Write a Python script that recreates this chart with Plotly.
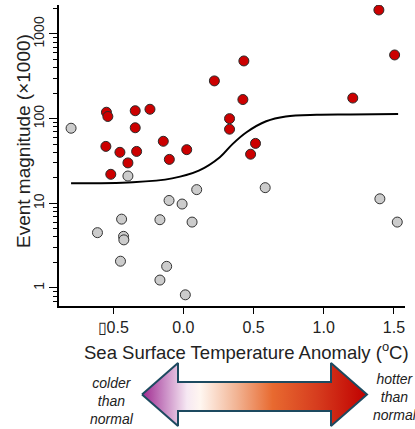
import plotly.graph_objects as go

# ---- data ----
grey_x = [-0.80, -0.395, 0.095, 0.583, 1.40, 1.524, -0.612, -0.44, -0.426, -0.424,
          -0.448, -0.102, -0.009, -0.167, 0.062, -0.119, -0.167, 0.014]
grey_y = [77, 21, 14.5, 15.3, 11.3, 6.0, 4.5, 6.5, 4.07, 3.7,
          2.07, 10.8, 9.8, 6.4, 6.0, 1.8, 1.24, 0.83]

red_x = [-0.548, -0.538, -0.343, -0.238, -0.343, -0.552, -0.452, -0.333, -0.143, 0.024,
         -0.10, -0.395, -0.517, 1.393, 1.505, 0.431, 0.221, 0.424, 1.207, 0.329,
         0.329, 0.514, 0.479]
red_y = [119, 106, 124, 129, 78, 47, 40, 41, 54, 43,
         33, 30, 22, 1920, 565, 480, 279, 168, 175, 100,
         75, 51, 38]

curve_x = [-0.80, -0.36, -0.08, 0.11, 0.26, 0.35, 0.45, 0.59, 0.73, 0.95, 1.19, 1.53]
curve_y = [17.2, 17.7, 19.7, 24.3, 35, 50, 69, 93, 106, 111, 112, 113.6]

x_tickvals = [-0.5, 0.0, 0.5, 1.0, 1.5]
x_ticktext = ["\u25af0.5", "0.0", "0.5", "1.0", "1.5"]
y_tickvals = [1, 10, 100, 1000]
y_ticktext = ["1", "10", "100", "1000"]
y_minor = [m * 10 ** e for e in range(-1, 4) for m in range(2, 10)]

FONT = "Liberation Sans, Arial, sans-serif"
W, H = 415, 429
ML, MR, MT, MB = 59, 10, 5, 0
PH = H - MT - MB

fig = go.Figure()

fig.add_trace(go.Scatter(x=curve_x, y=curve_y, mode="lines", line_shape="spline",
                         line=dict(color="black", width=2), hoverinfo="skip",
                         showlegend=False))
fig.add_trace(go.Scatter(x=grey_x, y=grey_y, mode="markers", showlegend=False,
                         marker=dict(size=10, color="#cccccc",
                                     line=dict(color="#333333", width=1))))
fig.add_trace(go.Scatter(x=red_x, y=red_y, mode="markers", showlegend=False,
                         marker=dict(size=10, color="#cc0000",
                                     line=dict(color="#2a2a2a", width=1))))

# ---- decorative gradient arrow (pixel coordinates on helper axes) ----
ax_l, ax_r = 142, 367
hb_l, hb_r = 178, 331
head_t, head_b = 363, 426
sh_t, sh_b = 382, 411
mid = 394.5
arrow_x = [ax_l, hb_l, hb_l, hb_r, hb_r, ax_r, hb_r, hb_r, hb_l, hb_l, ax_l]
arrow_y = [mid, head_t, sh_t, sh_t, head_t, mid, head_b, sh_b, sh_b, head_b, mid]
fig.add_trace(go.Scatter(
    x=arrow_x, y=arrow_y, xaxis="x2", yaxis="y2", mode="lines", fill="toself",
    line=dict(color="#1d4a60", width=2), showlegend=False, hoverinfo="skip",
    fillgradient=dict(type="horizontal", colorscale=[
        [0.0, "#a0288f"], [0.1, "#c98ac4"], [0.2, "#f6e8f3"], [0.26, "#fff6f0"],
        [0.42, "#f2b494"], [0.58, "#e86a30"], [0.78, "#d63c1e"], [1.0, "#c00000"]])))

fig.update_layout(
    width=W, height=H, margin=dict(l=ML, r=MR, t=MT, b=MB),
    paper_bgcolor="white", plot_bgcolor="white",
    font=dict(family=FONT, color="#222222"),
    xaxis=dict(range=[-0.886, 1.579], domain=[0, 1], anchor="y",
               tickvals=x_tickvals, ticktext=x_ticktext,
               tickfont=dict(size=16, color="#222222"),
               showline=True, linecolor="black", linewidth=1.5,
               ticks="outside", ticklen=6, tickwidth=1.2, tickcolor="black",
               showgrid=False, zeroline=False),
    yaxis=dict(type="log", range=[-0.213, 3.342],
               domain=[(H - 306 - MB) / PH, 1], anchor="x",
               tickvals=y_tickvals, ticktext=y_ticktext, tickangle=-90,
               tickfont=dict(size=14, color="#222222"),
               showline=True, linecolor="black", linewidth=1.5,
               ticks="outside", ticklen=8, tickwidth=1.2, tickcolor="black",
               minor=dict(tickvals=y_minor, ticks="outside", ticklen=4,
                          tickwidth=1, tickcolor="black", showgrid=False),
               showgrid=False, zeroline=False),
    xaxis2=dict(range=[ML, W - MR], domain=[0, 1], anchor="y2", visible=False,
                fixedrange=True),
    yaxis2=dict(range=[H, 355], domain=[0, (H - 355 - MB) / PH], anchor="x2",
                visible=False, fixedrange=True),
)

fig.add_annotation(text="Sea Surface Temperature Anomaly (<sup>o</sup>C)",
                   xref="x2", yref="paper", x=246, y=(H - 351 - MB) / PH,
                   showarrow=False, font=dict(size=18.5, color="#222222"),
                   xanchor="center", yanchor="middle")
fig.add_annotation(text="Event magnitude (\u00d71000)", textangle=-90,
                   xref="paper", yref="paper", x=-(ML - 23) / (W - ML - MR),
                   y=(H - 141 - MB) / PH, showarrow=False,
                   font=dict(size=19, color="#222222"),
                   xanchor="center", yanchor="middle")
fig.add_annotation(text="<i>colder<br>than<br>normal</i>", xref="x2", yref="y2",
                   x=112, y=401, showarrow=False, align="center",
                   font=dict(size=14, color="#222222"))
fig.add_annotation(text="<i>hotter<br>than<br>normal</i>", xref="x2", yref="y2",
                   x=395, y=397, showarrow=False, align="center",
                   font=dict(size=14, color="#222222"))

fig.write_html("out.html", config={"displayModeBar": False},
               post_script="document.body.style.margin='0';"
                           "document.body.style.overflow='hidden';")
